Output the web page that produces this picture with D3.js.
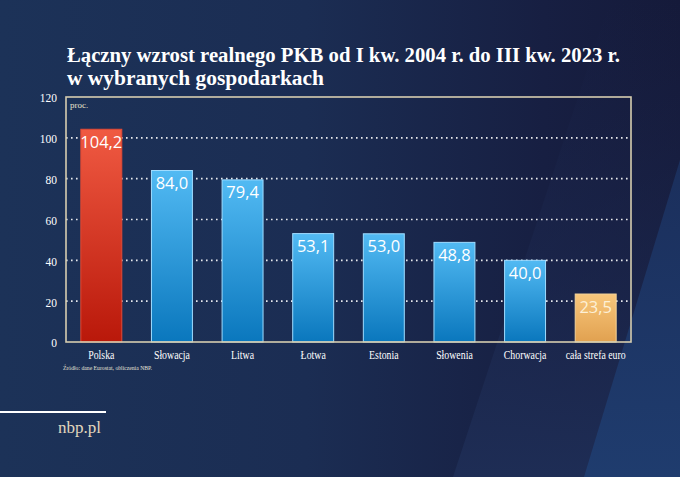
<!DOCTYPE html>
<html><head><meta charset="utf-8">
<script src="https://cdn.jsdelivr.net/npm/d3@7"></script>
<style>html,body{margin:0;padding:0;background:#1b2f53;}svg{display:block;}</style>
</head><body>
<svg id="c" width="680" height="477"></svg>
<script>
const categories = ["Polska","Słowacja","Litwa","Łotwa","Estonia","Słowenia","Chorwacja","cała strefa euro"];
const values = [104.2, 84.0, 79.4, 53.1, 53.0, 48.8, 40.0, 23.5];
const barKinds = ["pl","cee","cee","cee","cee","cee","cee","ea"];
const yTicks = [0,20,40,60,80,100,120];
const titleLines = ["Łączny wzrost realnego PKB od I kw. 2004 r. do III kw. 2023 r.","w wybranych gospodarkach"];
const unitLabel = "proc.";
const sourceNote = "Źródło: dane Eurostat, obliczenia NBP.";
const siteLabel = "nbp.pl";

(function(){
const svg = d3.select("#c");
const W = 680, H = 477;
const defs = svg.append("defs");

// background
const bg = defs.append("linearGradient").attr("id","bg").attr("x1","0").attr("y1","0").attr("x2","1").attr("y2","0");
bg.append("stop").attr("offset","0%").attr("stop-color","#1c3258");
bg.append("stop").attr("offset","45%").attr("stop-color","#1b2d53");
bg.append("stop").attr("offset","80%").attr("stop-color","#171f42");
bg.append("stop").attr("offset","100%").attr("stop-color","#151a3a");
svg.append("rect").attr("width",W).attr("height",H).attr("fill","url(#bg)");
const wedgeA = defs.append("linearGradient").attr("id","wa").attr("x1","0").attr("y1","0").attr("x2","0").attr("y2","1");
wedgeA.append("stop").attr("offset","0%").attr("stop-color","#1a2348").attr("stop-opacity",0);
wedgeA.append("stop").attr("offset","100%").attr("stop-color","#1e2d55").attr("stop-opacity",1);
svg.append("polygon").attr("points","453,477 610,0 680,0 680,477").attr("fill","url(#wa)");
const wedgeB = defs.append("linearGradient").attr("id","wb").attr("x1","0").attr("y1","0").attr("x2","0").attr("y2","1");
wedgeB.append("stop").attr("offset","0%").attr("stop-color","#1b2f5c");
wedgeB.append("stop").attr("offset","100%").attr("stop-color","#1f3c6e");
svg.append("polygon").attr("points","584,477 680,160 680,477").attr("fill","url(#wb)");

// bar gradients
function grad(id, t, b){
  const g = defs.append("linearGradient").attr("id",id).attr("x1","0").attr("y1","0").attr("x2","0").attr("y2","1");
  g.append("stop").attr("offset","0%").attr("stop-color",t);
  g.append("stop").attr("offset","100%").attr("stop-color",b);
}
grad("g-pl","#f05a42","#b9180a");
grad("g-cee","#52baf3","#0a77bd");
grad("g-ea","#f8c77c","#e1a150");
const strokes = {pl:"#e24a35", cee:"#9fdcff", ea:"#f5d49a"};
const labelColor = {pl:"#ffffff", cee:"#ffffff", ea:"#fdf0d6"};

// title
const title = svg.append("g").attr("font-family","'Liberation Serif', 'DejaVu Serif', serif").attr("font-weight","bold").attr("font-size",20.5).attr("fill","#ffffff");
title.append("text").attr("x",67).attr("y",62).attr("textLength",553).attr("lengthAdjust","spacingAndGlyphs").text(titleLines[0]);
title.append("text").attr("x",67).attr("y",85).attr("textLength",257).attr("lengthAdjust","spacingAndGlyphs").text(titleLines[1]);

// scales
const pL = 66, pR = 631, pT = 97, pB = 342;
const x = d3.scaleBand().domain(categories).range([pL, pR]).paddingInner(0.42).paddingOuter(0.21);
const y = d3.scaleLinear().domain([0,120]).range([pB, pT]);

// grid
svg.append("g").selectAll("line").data(yTicks.filter(t => t > 0 && t < 120)).join("line")
  .attr("x1", pL).attr("x2", pR).attr("y1", d => y(d)).attr("y2", d => y(d))
  .attr("stroke","#ffffff").attr("stroke-width",1.6).attr("stroke-dasharray","1.6,3.4").attr("opacity",0.9);

// y axis labels
const yAxis = d3.axisLeft(y).tickValues(yTicks).tickSize(0).tickPadding(0);
const ya = svg.append("g").attr("transform",`translate(57,0)`).call(yAxis);
ya.select(".domain").remove();
ya.selectAll(".tick text").attr("font-family","'Liberation Serif', serif").attr("font-size",13.5).attr("fill","#ffffff")
  .attr("x",0).attr("dy","0.36em").attr("transform","scale(0.85,1)");

// bars
svg.append("g").selectAll("rect").data(categories).join("rect")
  .attr("x", d => x(d)).attr("width", x.bandwidth())
  .attr("y", (d,i) => y(values[i])).attr("height", (d,i) => y(0) - y(values[i]))
  .attr("fill", (d,i) => `url(#g-${barKinds[i]})`)
  .attr("stroke", (d,i) => strokes[barKinds[i]]).attr("stroke-width",1);

// value labels
svg.append("g").selectAll("text").data(categories).join("text")
  .attr("x", d => x(d) + x.bandwidth()/2)
  .attr("y", (d,i) => y(values[i]) + 18.5)
  .attr("text-anchor","middle").attr("font-family","'Open Sans', 'Noto Sans', sans-serif").attr("font-size",16.5)
  .attr("fill",(d,i) => labelColor[barKinds[i]])
  .text((d,i) => d3.format(".1f")(values[i]).replace(".", ","));

// frame
svg.append("rect").attr("x",pL).attr("y",pT).attr("width",pR-pL).attr("height",pB-pT)
  .attr("fill","none").attr("stroke","#d6cdb0").attr("stroke-width",1.6);

// unit label
svg.append("text").attr("x",70).attr("y",108).attr("font-family","'Liberation Serif', serif").attr("font-size",9)
  .attr("fill","#e8e2cc").text(unitLabel);

// x axis labels
const xAxis = d3.axisBottom(x).tickSize(0).tickPadding(0);
const xa = svg.append("g").attr("transform",`translate(0,${pB})`).call(xAxis);
xa.select(".domain").remove();
xa.selectAll(".tick text").attr("font-family","'Liberation Serif', serif").attr("font-size",12).attr("fill","#ffffff")
  .attr("y",17.5).attr("dy",0).attr("transform","scale(0.82,1)");

// source
svg.append("text").attr("x",63).attr("y",370).attr("font-family","'Liberation Serif', serif").attr("font-size",7)
  .attr("fill","#e6e2d6").attr("textLength",89).attr("lengthAdjust","spacingAndGlyphs").text(sourceNote);

// footer
svg.append("line").attr("x1",0).attr("x2",106).attr("y1",412).attr("y2",412).attr("stroke","#ffffff").attr("stroke-width",2);
svg.append("text").attr("x",101).attr("y",433).attr("text-anchor","end").attr("font-family","'Liberation Serif', serif").attr("font-size",17)
  .attr("fill","#e2d7bd").text(siteLabel);
})();
</script>
</body></html>
